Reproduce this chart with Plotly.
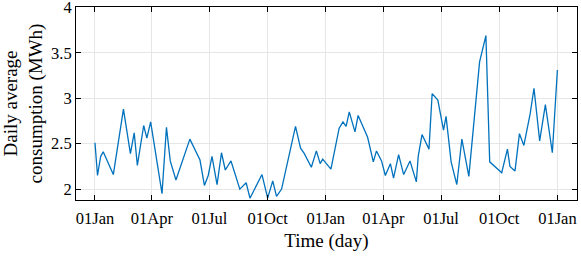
import plotly.graph_objects as go

dates = [
    "2019-01-01", "2019-01-05", "2019-01-10", "2019-01-14", "2019-01-30", "2019-02-15",
    "2019-02-26", "2019-03-04", "2019-03-09", "2019-03-19", "2019-03-24", "2019-03-30",
    "2019-04-17", "2019-04-24", "2019-04-30", "2019-05-09", "2019-05-31", "2019-06-16",
    "2019-06-23", "2019-06-29", "2019-07-05", "2019-07-13", "2019-07-20", "2019-07-26",
    "2019-08-04", "2019-08-18", "2019-08-28", "2019-09-03", "2019-09-22", "2019-10-01",
    "2019-10-09", "2019-10-15", "2019-10-23", "2019-11-14", "2019-11-22", "2019-11-28",
    "2019-12-09", "2019-12-17", "2019-12-23", "2019-12-27", "2020-01-09", "2020-01-22",
    "2020-01-28", "2020-02-02", "2020-02-07", "2020-02-16", "2020-02-21", "2020-03-07",
    "2020-03-16", "2020-03-21", "2020-03-29", "2020-04-04", "2020-04-12", "2020-04-17",
    "2020-04-25", "2020-05-03", "2020-05-13", "2020-05-23", "2020-05-26", "2020-06-01",
    "2020-06-12", "2020-06-17", "2020-06-26", "2020-07-05", "2020-07-09", "2020-07-17",
    "2020-07-26", "2020-08-03", "2020-08-14", "2020-08-27", "2020-08-31", "2020-09-10",
    "2020-09-16", "2020-10-05", "2020-10-14", "2020-10-18", "2020-10-26", "2020-11-02",
    "2020-11-09", "2020-11-19", "2020-11-25", "2020-12-04", "2020-12-13", "2020-12-24",
    "2021-01-01",
]
consumption = [
    2.51, 2.15, 2.36, 2.41, 2.16, 2.88,
    2.39, 2.62, 2.26, 2.70, 2.56, 2.74,
    1.95, 2.68, 2.31, 2.10, 2.55, 2.32,
    2.04, 2.15, 2.36, 2.05, 2.40, 2.21,
    2.31, 2.00, 2.07, 1.90, 2.16, 1.90,
    2.09, 1.92, 2.00, 2.69, 2.45, 2.39,
    2.24, 2.42, 2.28, 2.33, 2.22, 2.67,
    2.74, 2.69, 2.85, 2.63, 2.81, 2.57,
    2.30, 2.42, 2.31, 2.15, 2.28, 2.12,
    2.38, 2.16, 2.31, 2.08, 2.36, 2.60,
    2.44, 3.05, 2.98, 2.65, 2.80, 2.30,
    2.05, 2.55, 2.14, 3.15, 3.40, 3.69,
    2.30, 2.18, 2.44, 2.25, 2.20, 2.61,
    2.48, 2.83, 3.11, 2.53, 2.93, 2.40,
    3.31,
]
x_ticks = ["2019-01-01", "2019-04-01", "2019-07-01", "2019-10-01", "2020-01-01",
           "2020-04-01", "2020-07-01", "2020-10-01", "2021-01-01"]
x_ticklabels = ["01Jan", "01Apr", "01Jul", "01Oct", "01Jan", "01Apr", "01Jul", "01Oct", "01Jan"]
y_ticks = [2, 2.5, 3, 3.5, 4]
y_ticklabels = ["2", "2.5", "3", "3.5", "4"]

font = dict(family="Liberation Serif, Times New Roman, serif", color="black")

fig = go.Figure()
fig.add_trace(go.Scatter(x=dates, y=consumption, mode="lines",
                         line=dict(color="#0072BD", width=1.3), showlegend=False))

axis_common = dict(showline=True, linecolor="black", linewidth=1, mirror="ticks",
                   ticks="inside", ticklen=5, tickcolor="black", tickwidth=1,
                   showgrid=True, gridcolor="#e6e6e6", gridwidth=1, zeroline=False,
                   automargin=False, ticklabeloverflow="allow",
                   tickfont=dict(size=16.5, **font))

fig.update_layout(
    width=581, height=260,
    margin=dict(l=76, r=4, t=7, b=60),
    paper_bgcolor="white", plot_bgcolor="white",
    font=font,
    xaxis=dict(range=["2018-12-02", "2021-02-01"], tickvals=x_ticks, ticktext=x_ticklabels,
               ticklabelstandoff=3,
               title=dict(text="Time (day)", font=dict(size=19, **font), standoff=6),
               **axis_common),
    yaxis=dict(range=[1.88, 4.004], tickvals=y_ticks, ticktext=y_ticklabels,
               title=dict(text="Daily average<br>consumption (MWh)", font=dict(size=19, **font), standoff=6),
               **axis_common),
)

fig.write_html("out.html", config={"displayModeBar": False},
               post_script="document.body.style.margin='0';document.body.style.overflow='hidden';")
